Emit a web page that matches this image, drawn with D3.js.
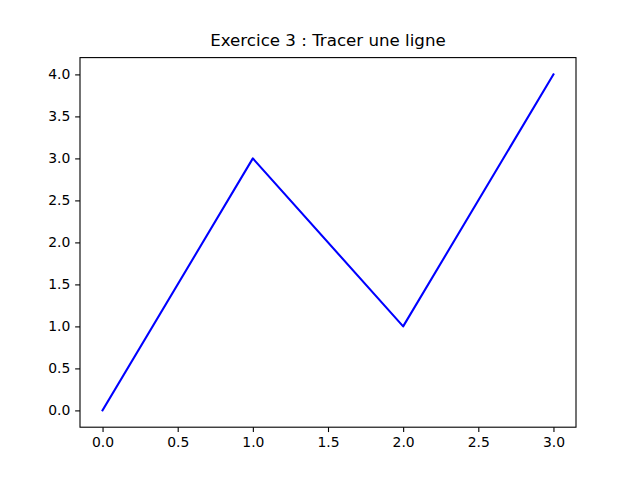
<!DOCTYPE html>
<html>
<head>
<meta charset="utf-8">
<script src="https://cdn.jsdelivr.net/npm/d3@7"></script>
<style>
  html, body { margin: 0; padding: 0; background: #fff; }
  svg { display: block; }
</style>
</head>
<body>
<div id="vis"></div>
<script>
var xValues = [0, 1, 2, 3]
var yValues = [0, 3, 1, 4]
var xTicks = [0, 0.5, 1, 1.5, 2, 2.5, 3]
var yTicks = [0, 0.5, 1, 1.5, 2, 2.5, 3, 3.5, 4]
var title = "Exercice 3 : Tracer une ligne"

var W = 640, H = 480
var margin = { top: 57.6, right: 64, bottom: 52.8, left: 80 }
var width = W - margin.left - margin.right,
    height = H - margin.top - margin.bottom

var svg = d3.select("#vis").append("svg")
    .attr("width", W)
    .attr("height", H)

var g = svg.append("g")
    .attr("transform", "translate(" + margin.left + "," + margin.top + ")")

// matplotlib style 5% margins
var xr = d3.extent(xValues), yr = d3.extent(yValues)
var xp = (xr[1] - xr[0]) * 0.05, yp = (yr[1] - yr[0]) * 0.05

var x = d3.scaleLinear().domain([xr[0] - xp, xr[1] + xp]).range([0, width])
var y = d3.scaleLinear().domain([yr[0] - yp, yr[1] + yp]).range([height, 0])

var fontFamily = "'DejaVu Sans', sans-serif"
var tickLen = 4.86

var xAxis = g.append("g")
    .attr("transform", "translate(0," + height + ")")
    .call(d3.axisBottom(x).tickValues(xTicks).tickFormat(d3.format(".1f"))
        .tickSizeOuter(0).tickSize(tickLen).tickPadding(4.86))

var yAxis = g.append("g")
    .call(d3.axisLeft(y).tickValues(yTicks).tickFormat(d3.format(".1f"))
        .tickSizeOuter(0).tickSize(tickLen).tickPadding(4.86))

g.selectAll("path.domain").remove()
g.selectAll(".tick line").attr("stroke", "#000").attr("stroke-width", 1.1)
g.selectAll(".tick text")
    .style("font-family", fontFamily)
    .attr("font-size", "13.9px")
    .attr("fill", "#000")

// line
var line = d3.line()
    .x(function (d, i) { return x(xValues[i]) })
    .y(function (d) { return y(d) })

g.append("path")
    .datum(yValues)
    .attr("d", line)
    .attr("fill", "none")
    .attr("stroke", "#0000ff")
    .attr("stroke-width", 2.08)
    .attr("stroke-linejoin", "round")
    .attr("stroke-linecap", "square")

// frame
g.append("rect")
    .attr("width", width)
    .attr("height", height)
    .attr("fill", "none")
    .attr("stroke", "#000")
    .attr("stroke-width", 1.1)

svg.append("text")
    .attr("x", margin.left + width / 2)
    .attr("y", margin.top - 8.33 - 3.5)
    .attr("text-anchor", "middle")
    .style("font-family", fontFamily)
    .attr("font-size", "16.67px")
    .attr("fill", "#000")
    .text(title)
</script>
</body>
</html>
